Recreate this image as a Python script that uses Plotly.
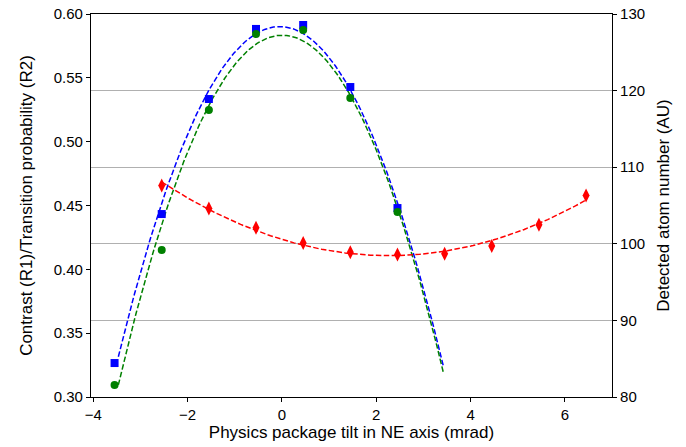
import numpy as np
import plotly.graph_objects as go

# ---- data ----
tilt_contrast = [-3.55, -2.55, -1.55, -0.55, 0.45, 1.45, 2.45]
contrast_r1 = [0.3266, 0.4433, 0.5334, 0.5883, 0.5914, 0.5428, 0.4480]
transition_r2 = [0.3094, 0.4151, 0.5248, 0.5843, 0.5875, 0.5342, 0.4449]

tilt_atoms = [-2.55, -1.55, -0.55, 0.45, 1.45, 2.45, 3.45, 4.45, 5.45, 6.45]
atom_number = [107.6, 104.6, 102.1, 100.1, 98.9, 98.6, 98.7, 99.7, 102.5, 106.3]

fit_span_contrast = (-3.47, 3.42)
fit_span_atoms = (-2.55, 6.45)

x_ticks = [-4, -2, 0, 2, 4, 6]
y_ticks = [0.30, 0.35, 0.40, 0.45, 0.50, 0.55, 0.60]
y2_ticks = [80, 90, 100, 110, 120, 130]


def quad_fit(x, y, span, n=200):
    c = np.polyfit(x, y, 2)
    xs = np.linspace(span[0], span[1], n)
    return xs, np.polyval(c, xs)


FONT = "Liberation Sans, Arial, sans-serif"
DASH = "5.5px,2.4px"

fig = go.Figure()

xb, yb = quad_fit(tilt_contrast, contrast_r1, fit_span_contrast)
xg, yg = quad_fit(tilt_contrast, transition_r2, fit_span_contrast)
xr, yr = quad_fit(tilt_atoms, atom_number, fit_span_atoms)

fig.add_trace(go.Scatter(x=xb, y=yb, mode="lines",
                         line=dict(color="#0000ff", width=1.5, dash=DASH),
                         showlegend=False, hoverinfo="skip"))
fig.add_trace(go.Scatter(x=xg, y=yg, mode="lines",
                         line=dict(color="#008000", width=1.5, dash=DASH),
                         showlegend=False, hoverinfo="skip"))
fig.add_trace(go.Scatter(x=tilt_contrast, y=contrast_r1, mode="markers",
                         marker=dict(symbol="square", size=8, color="#0000ff"),
                         name="Contrast (R1)", showlegend=False))
fig.add_trace(go.Scatter(x=tilt_contrast, y=transition_r2, mode="markers",
                         marker=dict(symbol="circle", size=8, color="#008000"),
                         name="Transition probability (R2)", showlegend=False))
fig.add_trace(go.Scatter(x=xr, y=yr, mode="lines", yaxis="y2",
                         line=dict(color="#ff0000", width=1.5, dash=DASH),
                         showlegend=False, hoverinfo="skip"))
fig.add_trace(go.Scatter(x=tilt_atoms, y=atom_number, mode="markers", yaxis="y2",
                         marker=dict(symbol="diamond-tall", size=10, color="#ff0000"),
                         name="Detected atom number", showlegend=False))

axis_common = dict(showline=True, linecolor="black", linewidth=1.2,
                   ticks="outside", ticklen=4, tickwidth=1, tickcolor="black",
                   tickfont=dict(family=FONT, size=15, color="black"),
                   zeroline=False, automargin=False)

fig.update_layout(
    width=686, height=447,
    margin=dict(l=91, r=74, t=14, b=50),
    paper_bgcolor="white", plot_bgcolor="white",
    font=dict(family=FONT, size=15, color="black"),
    xaxis=dict(range=[-4.05, 7.0], tickvals=x_ticks,
               ticktext=[str(v).replace("-", "\u2212") for v in x_ticks],
               showgrid=False, mirror=True,
               title=dict(text="Physics package tilt in NE axis (mrad)",
                          font=dict(family=FONT, size=17), standoff=2),
               **axis_common),
    yaxis=dict(range=[0.30, 0.60], tickvals=y_ticks,
               ticktext=[f"{v:.2f}" for v in y_ticks], showgrid=False,
               title=dict(text="Contrast (R1)/Transition probability (R2)",
                          font=dict(family=FONT, size=17), standoff=16),
               **axis_common),
    yaxis2=dict(range=[80, 130], tickvals=y2_ticks, overlaying="y", side="right",
                showgrid=True, gridcolor="#b0b0b0", gridwidth=1,
                title=dict(text="Detected atom number (AU)",
                           font=dict(family=FONT, size=17), standoff=12),
                **axis_common),
)

fig.write_html("out.html")
